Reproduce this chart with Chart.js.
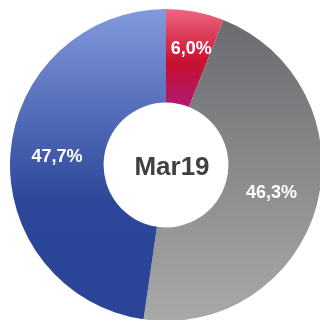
<!DOCTYPE html>
<html>
<head>
<meta charset="utf-8">
<script src="https://cdn.jsdelivr.net/npm/chart.js@4"></script>
<style>
  html, body { margin: 0; padding: 0; background: #fff; overflow: hidden; width: 320px; height: 320px; }
  #wrap { position: absolute; left: 10px; top: 9px; width: 312px; height: 312px; }
</style>
</head>
<body>
<div id="wrap"><canvas id="myChart" width="312" height="312"></canvas></div>
<script>
// データ
var categories = ['A', 'B', 'C'];
var values = [6.0, 46.3, 47.7];
var centerLabel = 'Mar19';

// 縦グラデーションの色 (上から下へ)
var gradStops = [
    [[0, '#f06682'], [0.17, '#c8102e'], [0.33, '#ad1a7a']],
    [[0, '#68696d'], [1, '#a9a9a9']],
    [[0, '#8399de'], [0.62, '#2c4799'], [1, '#2a4597']]
];

function segColor(context) {
    var chart = context.chart;
    var area = chart.chartArea;
    if (!area) return '#888';
    var g = chart.ctx.createLinearGradient(0, area.top, 0, area.bottom);
    gradStops[context.dataIndex].forEach(function(s) {
        g.addColorStop(s[0], s[1]);
    });
    return g;
}

// ラベルと中央テキストを描くプラグイン
var labelPlugin = {
    id: 'labels',
    afterDatasetsDraw: function(chart) {
        var ctx = chart.ctx;
        var meta = chart.getDatasetMeta(0);
        ctx.save();
        ctx.textAlign = 'center';
        ctx.textBaseline = 'middle';
        ctx.fillStyle = '#ffffff';
        ctx.font = 'bold 18px "Liberation Sans", Arial, sans-serif';
        meta.data.forEach(function(arc, i) {
            // 細いスライスはラベルを少し外側へ
            var f = values[i] < 10 ? 0.6 : 0.5;
            var a = (arc.startAngle + arc.endAngle) / 2;
            var r = arc.innerRadius + (arc.outerRadius - arc.innerRadius) * f;
            var txt = values[i].toFixed(1).replace('.', ',') + '%';
            ctx.fillText(txt, arc.x + Math.cos(a) * r + (values[i] < 10 ? 3 : 0), arc.y + Math.sin(a) * r);
        });
        var c = meta.data[0];
        ctx.fillStyle = '#404040';
        ctx.font = 'bold 26px "Liberation Sans", Arial, sans-serif';
        ctx.fillText(centerLabel, c.x + 6, c.y + 3);
        ctx.restore();
    }
};

var ctx = document.getElementById('myChart');
var myChart = new Chart(ctx, {
    type: 'doughnut',
    data: {
        labels: categories,
        datasets: [{
            data: values,
            backgroundColor: segColor,
            borderWidth: 0
        }]
    },
    options: {
        responsive: false,
        animation: false,
        cutout: '40%',
        layout: { padding: 0 },
        plugins: {
            legend: { display: false },
            tooltip: { enabled: false }
        }
    },
    plugins: [labelPlugin]
});
</script>
</body>
</html>
